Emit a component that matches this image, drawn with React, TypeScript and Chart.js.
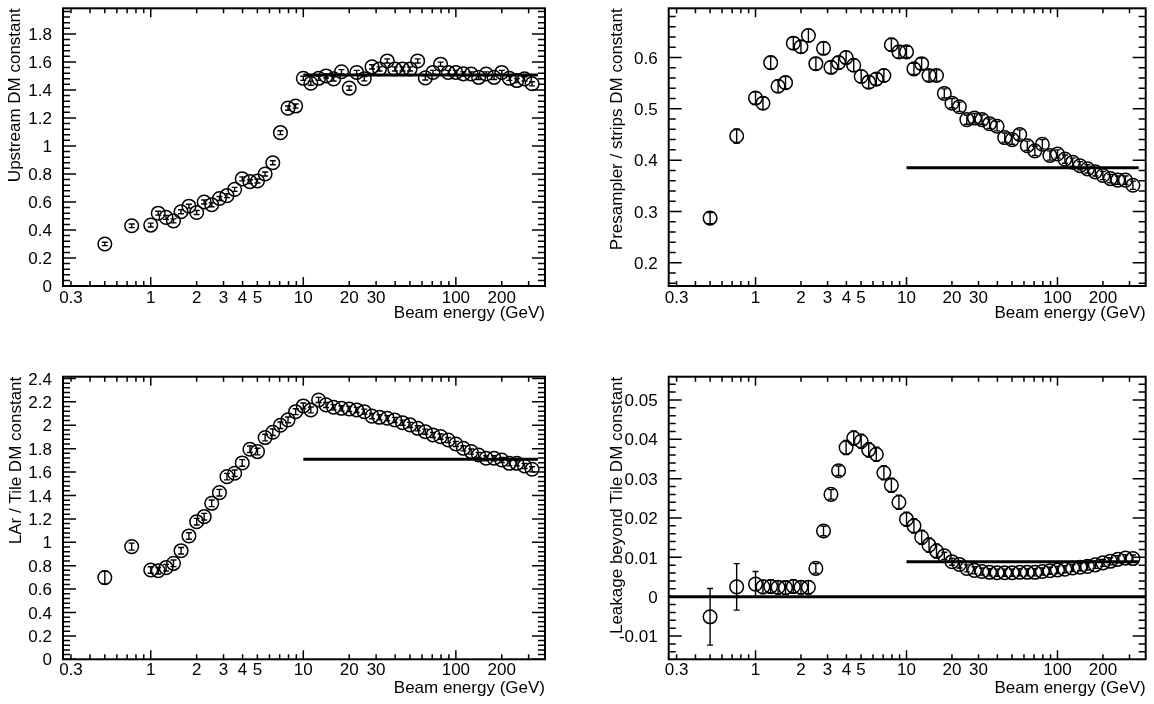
import React, { useEffect, useRef } from "react";
import { Chart, registerables } from "chart.js";

Chart.register(...registerables);
Chart.defaults.font.family = "'Liberation Sans', Arial, Helvetica, sans-serif";
Chart.defaults.color = "#000";

// ---------------- data ----------------
const energies = [
  0.5, 0.75,
  1, 1.12, 1.26, 1.41, 1.58, 1.78, 2, 2.24, 2.51, 2.82,
  3.16, 3.55, 3.98, 4.47, 5.01, 5.62, 6.31, 7.08, 7.94, 8.91,
  10, 11.2, 12.6, 14.1, 15.8, 17.8, 20, 22.4, 25.1, 28.2,
  31.6, 35.5, 39.8, 44.7, 50.1, 56.2, 63.1, 70.8, 79.4, 89.1,
  100, 112, 126, 141, 158, 178, 200, 224, 251, 282,
  316,
];

const upstream = [
  0.30, 0.43,
  0.435, 0.52, 0.49, 0.465, 0.53, 0.57, 0.525, 0.60, 0.58, 0.625,
  0.645, 0.69, 0.765, 0.745, 0.75, 0.80, 0.88, 1.095, 1.27, 1.285,
  1.483, 1.448, 1.483, 1.50, 1.479, 1.53, 1.413, 1.525, 1.48, 1.565,
  1.55, 1.607, 1.55, 1.55, 1.55, 1.607, 1.486, 1.525, 1.584, 1.525,
  1.525, 1.515, 1.514, 1.49, 1.514, 1.49, 1.525, 1.483, 1.467, 1.479,
  1.444,
];
const upstreamErr = [
  0.012, 0.013,
  0.014, 0.014, 0.014, 0.014, 0.014, 0.014, 0.014, 0.014, 0.014, 0.014,
  0.014, 0.014, 0.014, 0.014, 0.014, 0.014, 0.014, 0.014, 0.015, 0.015,
  0.015, 0.015, 0.015, 0.015, 0.015, 0.015, 0.015, 0.015, 0.015, 0.015,
  0.015, 0.015, 0.015, 0.015, 0.015, 0.015, 0.015, 0.015, 0.015, 0.015,
  0.015, 0.015, 0.015, 0.015, 0.015, 0.015, 0.015, 0.015, 0.015, 0.015,
  0.015,
];

const presampler = [
  0.287, 0.447,
  0.521, 0.511, 0.59, 0.544, 0.551, 0.628, 0.621, 0.643, 0.588, 0.618,
  0.581, 0.59, 0.60, 0.585, 0.563, 0.552, 0.558, 0.565, 0.625, 0.611,
  0.611, 0.578, 0.588, 0.565, 0.565, 0.53, 0.511, 0.504, 0.479, 0.482,
  0.479, 0.471, 0.466, 0.444, 0.44, 0.45, 0.428, 0.418, 0.431, 0.409,
  0.412, 0.402, 0.396, 0.389, 0.383, 0.377, 0.37, 0.364, 0.361, 0.361,
  0.351,
];
const presamplerErr = [
  0.011, 0.014,
  0.012, 0.012, 0.012, 0.012, 0.012, 0.012, 0.012, 0.012, 0.012, 0.012,
  0.012, 0.012, 0.012, 0.012, 0.012, 0.012, 0.012, 0.012, 0.012, 0.012,
  0.011, 0.011, 0.011, 0.011, 0.011, 0.009, 0.009, 0.009, 0.009, 0.009,
  0.009, 0.009, 0.009, 0.009, 0.009, 0.009, 0.009, 0.009, 0.009, 0.009,
  0.008, 0.008, 0.008, 0.008, 0.008, 0.008, 0.008, 0.008, 0.008, 0.008,
  0.008,
];

const lar = [
  0.698, 0.963,
  0.763, 0.757, 0.783, 0.82, 0.928, 1.054, 1.176, 1.219, 1.333, 1.424,
  1.561, 1.59, 1.678, 1.795, 1.775, 1.895, 1.94, 2.0, 2.046, 2.116,
  2.165, 2.131, 2.216, 2.174, 2.154, 2.145, 2.139, 2.131, 2.116, 2.078,
  2.068, 2.06, 2.045, 2.022, 2.003, 1.974, 1.945, 1.917, 1.903, 1.874,
  1.84, 1.803, 1.775, 1.746, 1.718, 1.718, 1.703, 1.675, 1.675, 1.652,
  1.624,
];
const larErr = [
  0.055, 0.03,
  0.028, 0.028, 0.028, 0.028, 0.028, 0.028, 0.028, 0.028, 0.028, 0.028,
  0.028, 0.028, 0.028, 0.028, 0.028, 0.028, 0.028, 0.028, 0.025, 0.025,
  0.025, 0.025, 0.022, 0.022, 0.022, 0.022, 0.022, 0.022, 0.022, 0.022,
  0.022, 0.022, 0.022, 0.022, 0.022, 0.022, 0.022, 0.022, 0.022, 0.022,
  0.022, 0.022, 0.022, 0.022, 0.022, 0.022, 0.022, 0.022, 0.022, 0.022,
  0.022,
];

const leakage = [
  -0.0051, 0.0025,
  0.0032, 0.0025, 0.0026, 0.0024, 0.0023, 0.0026, 0.0024, 0.0024, 0.0072, 0.0167,
  0.026, 0.032, 0.0379, 0.0403, 0.0395, 0.0373, 0.0362, 0.0315, 0.0283, 0.024,
  0.0197, 0.018, 0.0151, 0.0131, 0.0116, 0.0104, 0.0089, 0.0082, 0.0072, 0.0067,
  0.0064, 0.0062, 0.0061, 0.0061, 0.0061, 0.0062, 0.0062, 0.0062, 0.0064, 0.0066,
  0.0068, 0.007, 0.0073, 0.0075, 0.0077, 0.0081, 0.0086, 0.009, 0.0095, 0.0098,
  0.0097,
];
const leakageErr = [
  0.0072, 0.0059,
  0.0032, 0.0017, 0.0017, 0.0017, 0.0017, 0.0017, 0.0017, 0.0017, 0.0012, 0.0012,
  0.0012, 0.0012, 0.0018, 0.0018, 0.0018, 0.0018, 0.0018, 0.0018, 0.0018, 0.0018,
  0.0018, 0.0018, 0.0018, 0.0018, 0.0018, 0.0009, 0.0009, 0.0009, 0.0009, 0.0009,
  0.0009, 0.0009, 0.0009, 0.0009, 0.0009, 0.0009, 0.0009, 0.0009, 0.0009, 0.0009,
  0.0009, 0.0009, 0.0009, 0.0009, 0.0009, 0.0009, 0.0009, 0.0009, 0.0009, 0.0009,
  0.0009,
];

const fitRange = [10, 345];
const upstreamFit = 1.507;
const presamplerFit = 0.385;
const larFit = 1.709;
const leakageFit = 0.0089;

const xMin = 0.266;
const xMax = 384;
const xLabelTicks = [0.3, 1, 2, 3, 4, 5, 10, 20, 30, 100, 200];
const xMajorTicks = [1, 10, 100];
const xMinorTicks = [
  0.3, 0.4, 0.5, 0.6, 0.7, 0.8, 0.9,
  2, 3, 4, 5, 6, 7, 8, 9,
  20, 30, 40, 50, 60, 70, 80, 90,
  200, 300,
];

const upstreamYTicks = [0, 0.2, 0.4, 0.6, 0.8, 1, 1.2, 1.4, 1.6, 1.8];
const presamplerYTicks = [0.2, 0.3, 0.4, 0.5, 0.6];
const larYTicks = [0, 0.2, 0.4, 0.6, 0.8, 1, 1.2, 1.4, 1.6, 1.8, 2, 2.2, 2.4];
const leakageYTicks = [-0.01, 0, 0.01, 0.02, 0.03, 0.04, 0.05];

// ---------------- panels ----------------
type PanelDef = {
  left: number; top: number; width: number; height: number;
  plotLeft: number; plotTop: number; plotRight: number; plotBottom: number;
  yMin: number; yMax: number; yTicks: number[]; yMajorStep: number; yMinorStep: number;
  yTitle: string; values: number[]; errors: number[]; fit: number; zeroLine: boolean;
  xTickPad: number; xTitlePad: number; yTitlePad: number;
};

const panels: PanelDef[] = [
  {
    left: 0, top: 0, width: 577, height: 340,
    plotLeft: 63, plotTop: 3, plotRight: 545, plotBottom: 286,
    yMin: 0, yMax: 1.983, yTicks: upstreamYTicks, yMajorStep: 0.2, yMinorStep: 0.04,
    yTitle: "Upstream DM constant", values: upstream, errors: upstreamErr, fit: upstreamFit,
    zeroLine: false, xTickPad: -5.5, xTitlePad: 16.5, yTitlePad: 5,
  },
  {
    left: 577, top: 0, width: 577, height: 340,
    plotLeft: 91.7, plotTop: 3, plotRight: 572, plotBottom: 286,
    yMin: 0.1546, yMax: 0.696, yTicks: presamplerYTicks, yMajorStep: 0.1, yMinorStep: 0.02,
    yTitle: "Presampler / strips DM constant", values: presampler, errors: presamplerErr, fit: presamplerFit,
    zeroLine: false, xTickPad: -5.5, xTitlePad: 16.5, yTitlePad: 30.5,
  },
  {
    left: 0, top: 340, width: 577, height: 364,
    plotLeft: 63, plotTop: 36.7, plotRight: 545, plotBottom: 319.3,
    yMin: 0, yMax: 2.415, yTicks: larYTicks, yMajorStep: 0.2, yMinorStep: 0.04,
    yTitle: "LAr / Tile DM constant", values: lar, errors: larErr, fit: larFit,
    zeroLine: false, xTickPad: -7.5, xTitlePad: 5.5, yTitlePad: 6,
  },
  {
    left: 577, top: 340, width: 577, height: 364,
    plotLeft: 91.7, plotTop: 36.7, plotRight: 572, plotBottom: 319.3,
    yMin: -0.0159, yMax: 0.0559, yTicks: leakageYTicks, yMajorStep: 0.01, yMinorStep: 0.002,
    yTitle: "Leakage beyond Tile DM constant", values: leakage, errors: leakageErr, fit: leakageFit,
    zeroLine: true, xTickPad: -7.5, xTitlePad: 5.5, yTitlePad: 30,
  },
];

const fmt = (v: number) => String(Number(v.toFixed(4)));

function PanelChart({ p }: { p: PanelDef }) {
  const ref = useRef<HTMLCanvasElement | null>(null);

  useEffect(() => {
    const canvas = ref.current;
    if (!canvas) return;

    const points = energies.map((e, i) => ({ x: e, y: p.values[i] }));
    const datasets: any[] = [
      {
        label: "data",
        data: points,
        showLine: false,
        pointStyle: "circle",
        pointRadius: 6.8,
        pointHoverRadius: 6.8,
        pointBorderWidth: 1.5,
        pointBorderColor: "#000",
        pointBackgroundColor: "rgba(0,0,0,0)",
        borderColor: "#000",
        backgroundColor: "rgba(0,0,0,0)",
      },
      {
        label: "fit",
        data: fitRange.map((x) => ({ x, y: p.fit })),
        showLine: true,
        borderColor: "#000",
        borderWidth: 3,
        pointRadius: 0,
        fill: false,
      },
    ];
    if (p.zeroLine) {
      datasets.push({
        label: "zero",
        data: [{ x: xMin, y: 0 }, { x: xMax, y: 0 }],
        showLine: true,
        borderColor: "#000",
        borderWidth: 3,
        pointRadius: 0,
        fill: false,
      });
    }

    const rootStyle = {
      id: "rootStyle",
      afterDatasetsDraw(chart: any) {
        const { ctx, chartArea: a, scales } = chart;
        const xs = scales.x;
        const ys = scales.y;
        ctx.save();
        ctx.beginPath();
        ctx.rect(a.left, a.top, a.right - a.left, a.bottom - a.top);
        ctx.clip();
        ctx.strokeStyle = "#000";
        ctx.lineWidth = 1.4;
        energies.forEach((e, i) => {
          const px = xs.getPixelForValue(e);
          const y1 = ys.getPixelForValue(p.values[i] - p.errors[i]);
          const y2 = ys.getPixelForValue(p.values[i] + p.errors[i]);
          ctx.beginPath();
          ctx.moveTo(px, y1);
          ctx.lineTo(px, y2);
          ctx.moveTo(px - 3, y1);
          ctx.lineTo(px + 3, y1);
          ctx.moveTo(px - 3, y2);
          ctx.lineTo(px + 3, y2);
          ctx.stroke();
        });
        ctx.restore();
      },
      afterDraw(chart: any) {
        const { ctx, chartArea: a, scales } = chart;
        const xs = scales.x;
        const ys = scales.y;
        ctx.save();
        ctx.strokeStyle = "#000";
        ctx.lineWidth = 2;
        ctx.strokeRect(a.left, a.top, a.right - a.left, a.bottom - a.top);
        ctx.lineWidth = 1.5;
        ctx.beginPath();
        const xTick = (v: number, len: number) => {
          const px = xs.getPixelForValue(v);
          ctx.moveTo(px, a.bottom);
          ctx.lineTo(px, a.bottom - len);
          ctx.moveTo(px, a.top);
          ctx.lineTo(px, a.top + len);
        };
        xMajorTicks.forEach((v) => xTick(v, 9));
        xMinorTicks.forEach((v) => xTick(v, 5));
        const n0 = Math.ceil(p.yMin / p.yMinorStep - 1e-6);
        const n1 = Math.floor(p.yMax / p.yMinorStep + 1e-6);
        for (let n = n0; n <= n1; n++) {
          const v = n * p.yMinorStep;
          const r = v / p.yMajorStep;
          const major = Math.abs(r - Math.round(r)) < 1e-6;
          const len = major ? 13 : 7;
          const py = ys.getPixelForValue(v);
          ctx.moveTo(a.left, py);
          ctx.lineTo(a.left + len, py);
          ctx.moveTo(a.right, py);
          ctx.lineTo(a.right - len, py);
        }
        ctx.stroke();
        ctx.restore();
      },
    };

    const chart = new Chart(canvas, {
      type: "scatter",
      data: { datasets },
      options: {
        animation: false,
        responsive: false,
        events: [],
        layout: {
          padding: {
            top: p.plotTop,
            right: p.width - p.plotRight,
            left: 0,
            bottom: 0,
          },
        },
        plugins: {
          legend: { display: false },
          tooltip: { enabled: false },
        },
        scales: {
          x: {
            type: "logarithmic",
            min: xMin,
            max: xMax,
            bounds: "data",
            grid: { display: false },
            border: { display: false },
            ticks: {
              autoSkip: false,
              maxRotation: 0,
              minRotation: 0,
              padding: p.xTickPad,
              font: { size: 17 },
              color: "#000",
              callback: (v: any) => String(v),
            },
            afterBuildTicks: (s: any) => {
              s.ticks = xLabelTicks.map((v) => ({ value: v }));
            },
            afterFit: (s: any) => {
              s.height = p.height - p.plotBottom;
              s.paddingLeft = 0;
              s.paddingRight = 0;
            },
            title: {
              display: true,
              text: "Beam energy (GeV)",
              align: "end",
              color: "#000",
              font: { size: 17 },
              padding: { top: 0, bottom: p.xTitlePad },
            },
          },
          y: {
            type: "linear",
            min: p.yMin,
            max: p.yMax,
            grid: { display: false },
            border: { display: false },
            ticks: {
              padding: 3,
              labelOffset: 1.5,
              font: { size: 17 },
              color: "#000",
              callback: (v: any) => fmt(Number(v)),
            },
            afterBuildTicks: (s: any) => {
              s.ticks = p.yTicks.map((v) => ({ value: v }));
            },
            afterFit: (s: any) => {
              s.width = p.plotLeft;
              s.paddingTop = 0;
              s.paddingBottom = 0;
            },
            title: {
              display: true,
              text: p.yTitle,
              align: "end",
              color: "#000",
              font: { size: 17 },
              padding: { top: p.yTitlePad, bottom: 0 },
            },
          },
        },
      } as any,
      plugins: [rootStyle],
    });

    return () => chart.destroy();
  }, [p]);

  return (
    <canvas
      ref={ref}
      width={p.width}
      height={p.height}
      style={{
        position: "absolute",
        left: p.left,
        top: p.top,
        width: p.width,
        height: p.height,
      }}
    />
  );
}

export default function App() {
  return (
    <div
      style={{
        position: "fixed",
        left: 0,
        top: 0,
        width: 1154,
        height: 704,
        background: "#fff",
        overflow: "hidden",
      }}
    >
      {panels.map((p, i) => (
        <PanelChart key={i} p={p} />
      ))}
    </div>
  );
}
